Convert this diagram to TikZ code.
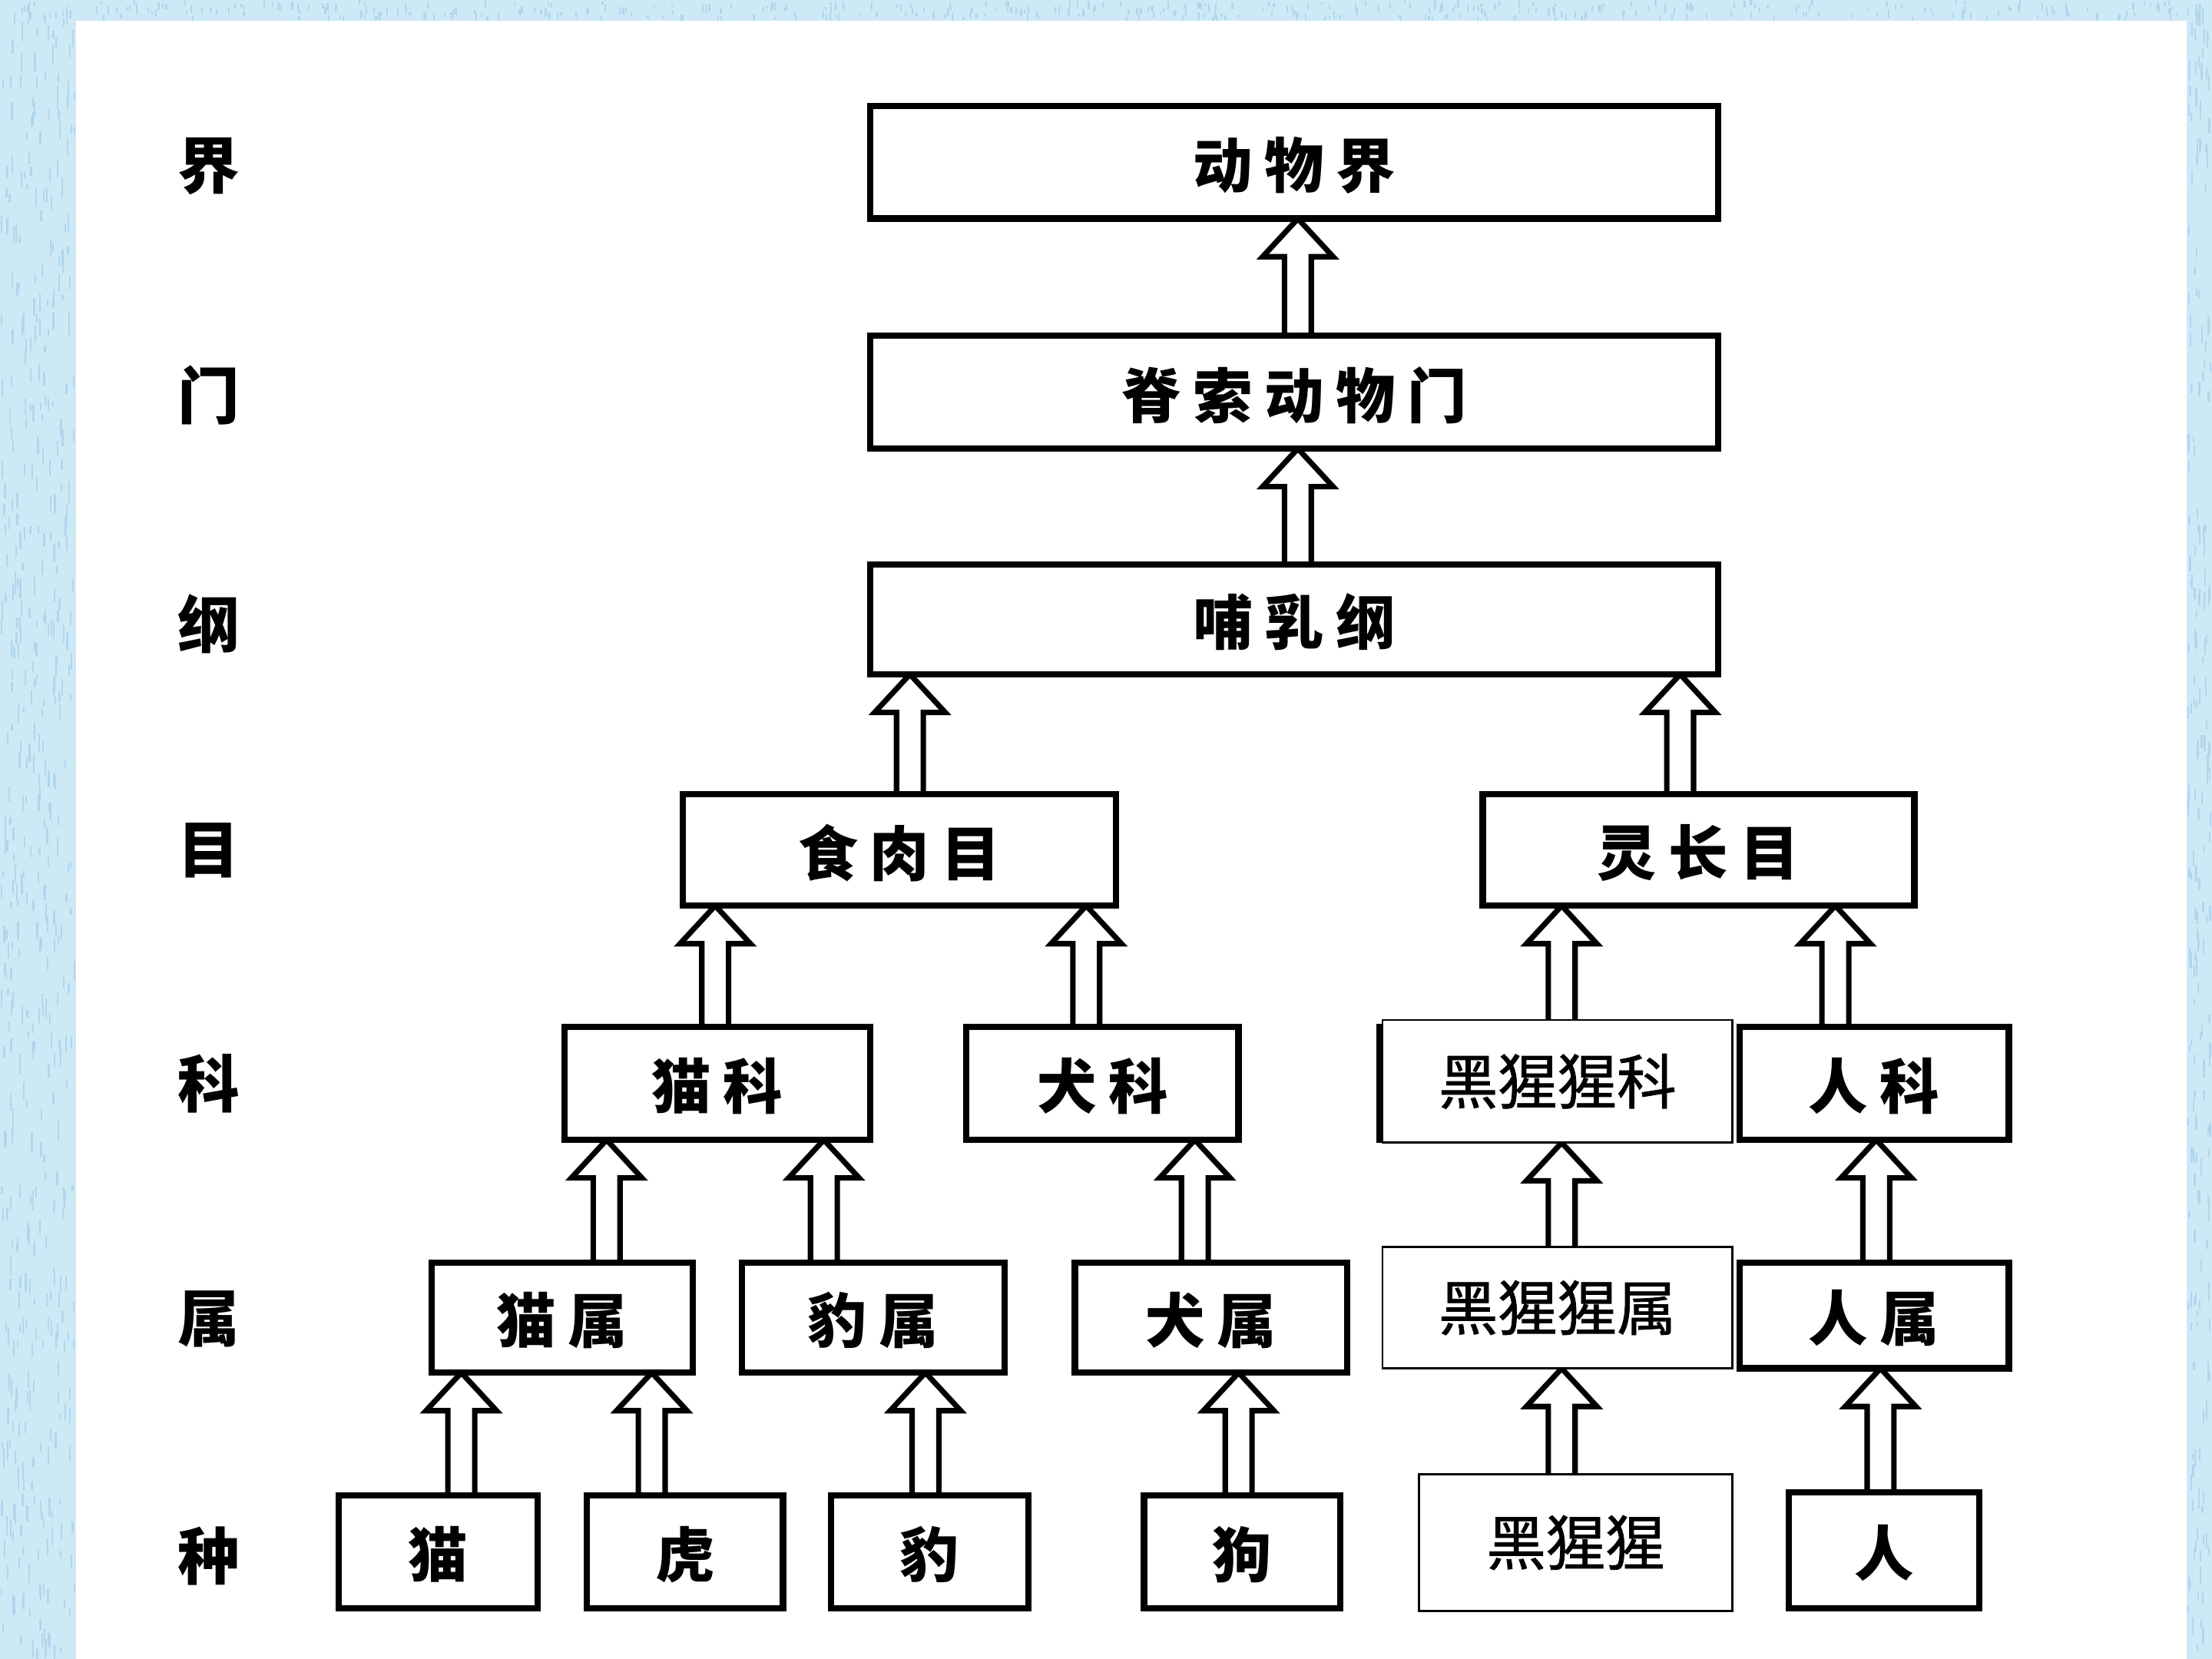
\documentclass[tikz,border=0pt]{standalone}
\usepackage{fontspec}
\newfontfamily\cjk{Noto Sans CJK SC}
\newfontfamily\cjkmed{Noto Sans CJK SC}[FakeBold=1]
\usetikzlibrary{calc}
\definecolor{bgblue}{RGB}{206,233,246}
\definecolor{bgblue2}{RGB}{176,214,236}
\pgfdeclarelayer{bg}
\pgfdeclarelayer{arr}
\pgfsetlayers{bg,arr,main}
\newcommand{\arrsw}{9.5}
\newcommand{\arrhw}{25}
\newcommand{\arrhh}{27}
\tikzset{
  taxbox/.style={draw=black, line width=2.6pt, fill=white, rectangle,
    inner sep=0pt, outer sep=0pt, text depth=-0.06cm,
    font=\cjk\bfseries\fontsize{24}{24}\selectfont\addfontfeature{LetterSpace=20}},
  newbox/.style={draw=black, line width=0.8pt, fill=white, rectangle,
    inner sep=0pt, outer sep=0pt,
    font=\cjkmed\fontsize{24}{24}\selectfont},
  ranklabel/.style={font=\cjk\bfseries\fontsize{25}{25}\selectfont, inner sep=0pt},
  hollowarr/.style={draw=black, line width=2.2pt, line join=miter},
  texture/.style={draw=bgblue2, line width=0.7pt}
}
% #1 lower node, #2 upper node, #3 x position of the shaft
\newcommand{\linkup}[3]{%
  \draw[hollowarr]
    ($(#1.north -| #3,0)+(-\arrsw,0)$) --
    ($(#2.south -| #3,0)+(-\arrsw,\arrhh)$) --
    ($(#2.south -| #3,0)+(-\arrhw,\arrhh)$) --
    (#2.south -| #3,0) --
    ($(#2.south -| #3,0)+(\arrhw,\arrhh)$) --
    ($(#2.south -| #3,0)+(\arrsw,\arrhh)$) --
    ($(#1.north -| #3,0)+(\arrsw,0)$);}
\begin{document}
\begin{tikzpicture}[x=0.02cm,y=-0.02cm]
\useasboundingbox (0,0) rectangle (1568,1176);
\begin{pgfonlayer}{bg}
  \fill[bgblue] (0,0) rectangle (1568,1176);
  \pgfmathsetseed{7}
  \foreach \i in {1,...,500} {
    \pgfmathsetmacro\xx{rnd*52+1}\pgfmathsetmacro\yy{rnd*1170}\pgfmathsetmacro\ll{4+rnd*10}
    \draw[texture] (\xx,\yy) -- ++(0,\ll);
  }
  \foreach \i in {1,...,400} {
    \pgfmathsetmacro\xx{rnd*1560}\pgfmathsetmacro\yy{rnd*12}\pgfmathsetmacro\ll{2+rnd*4}
    \draw[texture] (\xx,\yy) -- ++(0,\ll);
  }
  \foreach \i in {1,...,200} {
    \pgfmathsetmacro\xx{1551+rnd*16}\pgfmathsetmacro\yy{rnd*1170}\pgfmathsetmacro\ll{4+rnd*10}
    \draw[texture] (\xx,\yy) -- ++(0,\ll);
  }
  \fill[white] (54,14.5) rectangle (1550,1176);
\end{pgfonlayer}

% rank labels
\node[ranklabel] (lk) at (148,118) {界};
\node[ranklabel] (lp) at (148,280) {门};
\node[ranklabel] (lc) at (148,442) {纲};
\node[ranklabel] (lo) at (148,603) {目};
\node[ranklabel] (lf) at (148,768) {科};
\node[ranklabel] (lg) at (148,935) {属};
\node[ranklabel] (ls) at (148,1103) {种};

% boxes
\node[taxbox, minimum width=601*0.02cm, minimum height=80*0.02cm] (kingdom) at (917.5,115) {动物界};
\node[taxbox, minimum width=601*0.02cm, minimum height=80*0.02cm] (phylum) at (917.5,278) {脊索动物门};
\node[taxbox, minimum width=601*0.02cm, minimum height=78*0.02cm] (class) at (917.5,439) {哺乳纲};
\node[taxbox, minimum width=307*0.02cm, minimum height=79*0.02cm] (carn) at (637.5,602.5) {食肉目};
\node[taxbox, minimum width=306*0.02cm, minimum height=79*0.02cm] (prim) at (1204,602.5) {灵长目};
\node[taxbox, minimum width=217*0.02cm, minimum height=80*0.02cm] (felidae) at (508.5,768) {猫科};
\node[taxbox, minimum width=193*0.02cm, minimum height=80*0.02cm] (canidae) at (781.5,768) {犬科};
\draw[line width=2.6pt] (978,728) rectangle (1200,808);
\node[newbox, minimum width=248*0.02cm, minimum height=87*0.02cm] (panfam) at (1104,766.5) {黑猩猩科};
\node[taxbox, minimum width=191*0.02cm, minimum height=80*0.02cm] (hominidae) at (1328.5,768) {人科};
\node[taxbox, minimum width=185*0.02cm, minimum height=78*0.02cm] (felis) at (398.5,934) {猫属};
\node[taxbox, minimum width=186*0.02cm, minimum height=78*0.02cm] (panthera) at (619,934) {豹属};
\node[taxbox, minimum width=193*0.02cm, minimum height=78*0.02cm] (canis) at (858.5,934) {犬属};
\node[newbox, minimum width=248*0.02cm, minimum height=86*0.02cm] (pangen) at (1104,927) {黑猩猩属};
\node[taxbox, minimum width=191*0.02cm, minimum height=75*0.02cm] (homo) at (1328.5,932.5) {人属};
\node[taxbox, minimum width=141*0.02cm, minimum height=80*0.02cm] (cat) at (310.5,1100) {猫};
\node[taxbox, minimum width=139*0.02cm, minimum height=80*0.02cm] (tiger) at (485.5,1100) {虎};
\node[taxbox, minimum width=140*0.02cm, minimum height=80*0.02cm] (leopard) at (659,1100) {豹};
\node[taxbox, minimum width=139*0.02cm, minimum height=80*0.02cm] (dog) at (880.5,1100) {狗};
\node[newbox, minimum width=222*0.02cm, minimum height=97*0.02cm] (chimp) at (1117,1093.5) {黑猩猩};
\node[taxbox, minimum width=135*0.02cm, minimum height=82*0.02cm] (human) at (1335.5,1099) {人};

% hollow arrows (lower -> upper)
\begin{pgfonlayer}{arr}
\linkup{phylum}{kingdom}{920}
\linkup{class}{phylum}{920}
\linkup{carn}{class}{645}
\linkup{prim}{class}{1191}
\linkup{felidae}{carn}{507}
\linkup{canidae}{carn}{770}
\linkup{panfam}{prim}{1107}
\linkup{hominidae}{prim}{1301}
\linkup{felis}{felidae}{430}
\linkup{panthera}{felidae}{584}
\linkup{canis}{canidae}{847}
\linkup{pangen}{panfam}{1107}
\linkup{homo}{hominidae}{1330}
\linkup{cat}{felis}{327}
\linkup{tiger}{felis}{462}
\linkup{leopard}{panthera}{656}
\linkup{dog}{canis}{878}
\linkup{chimp}{pangen}{1107}
\linkup{human}{homo}{1333}
\end{pgfonlayer}
\end{tikzpicture}
\end{document}
